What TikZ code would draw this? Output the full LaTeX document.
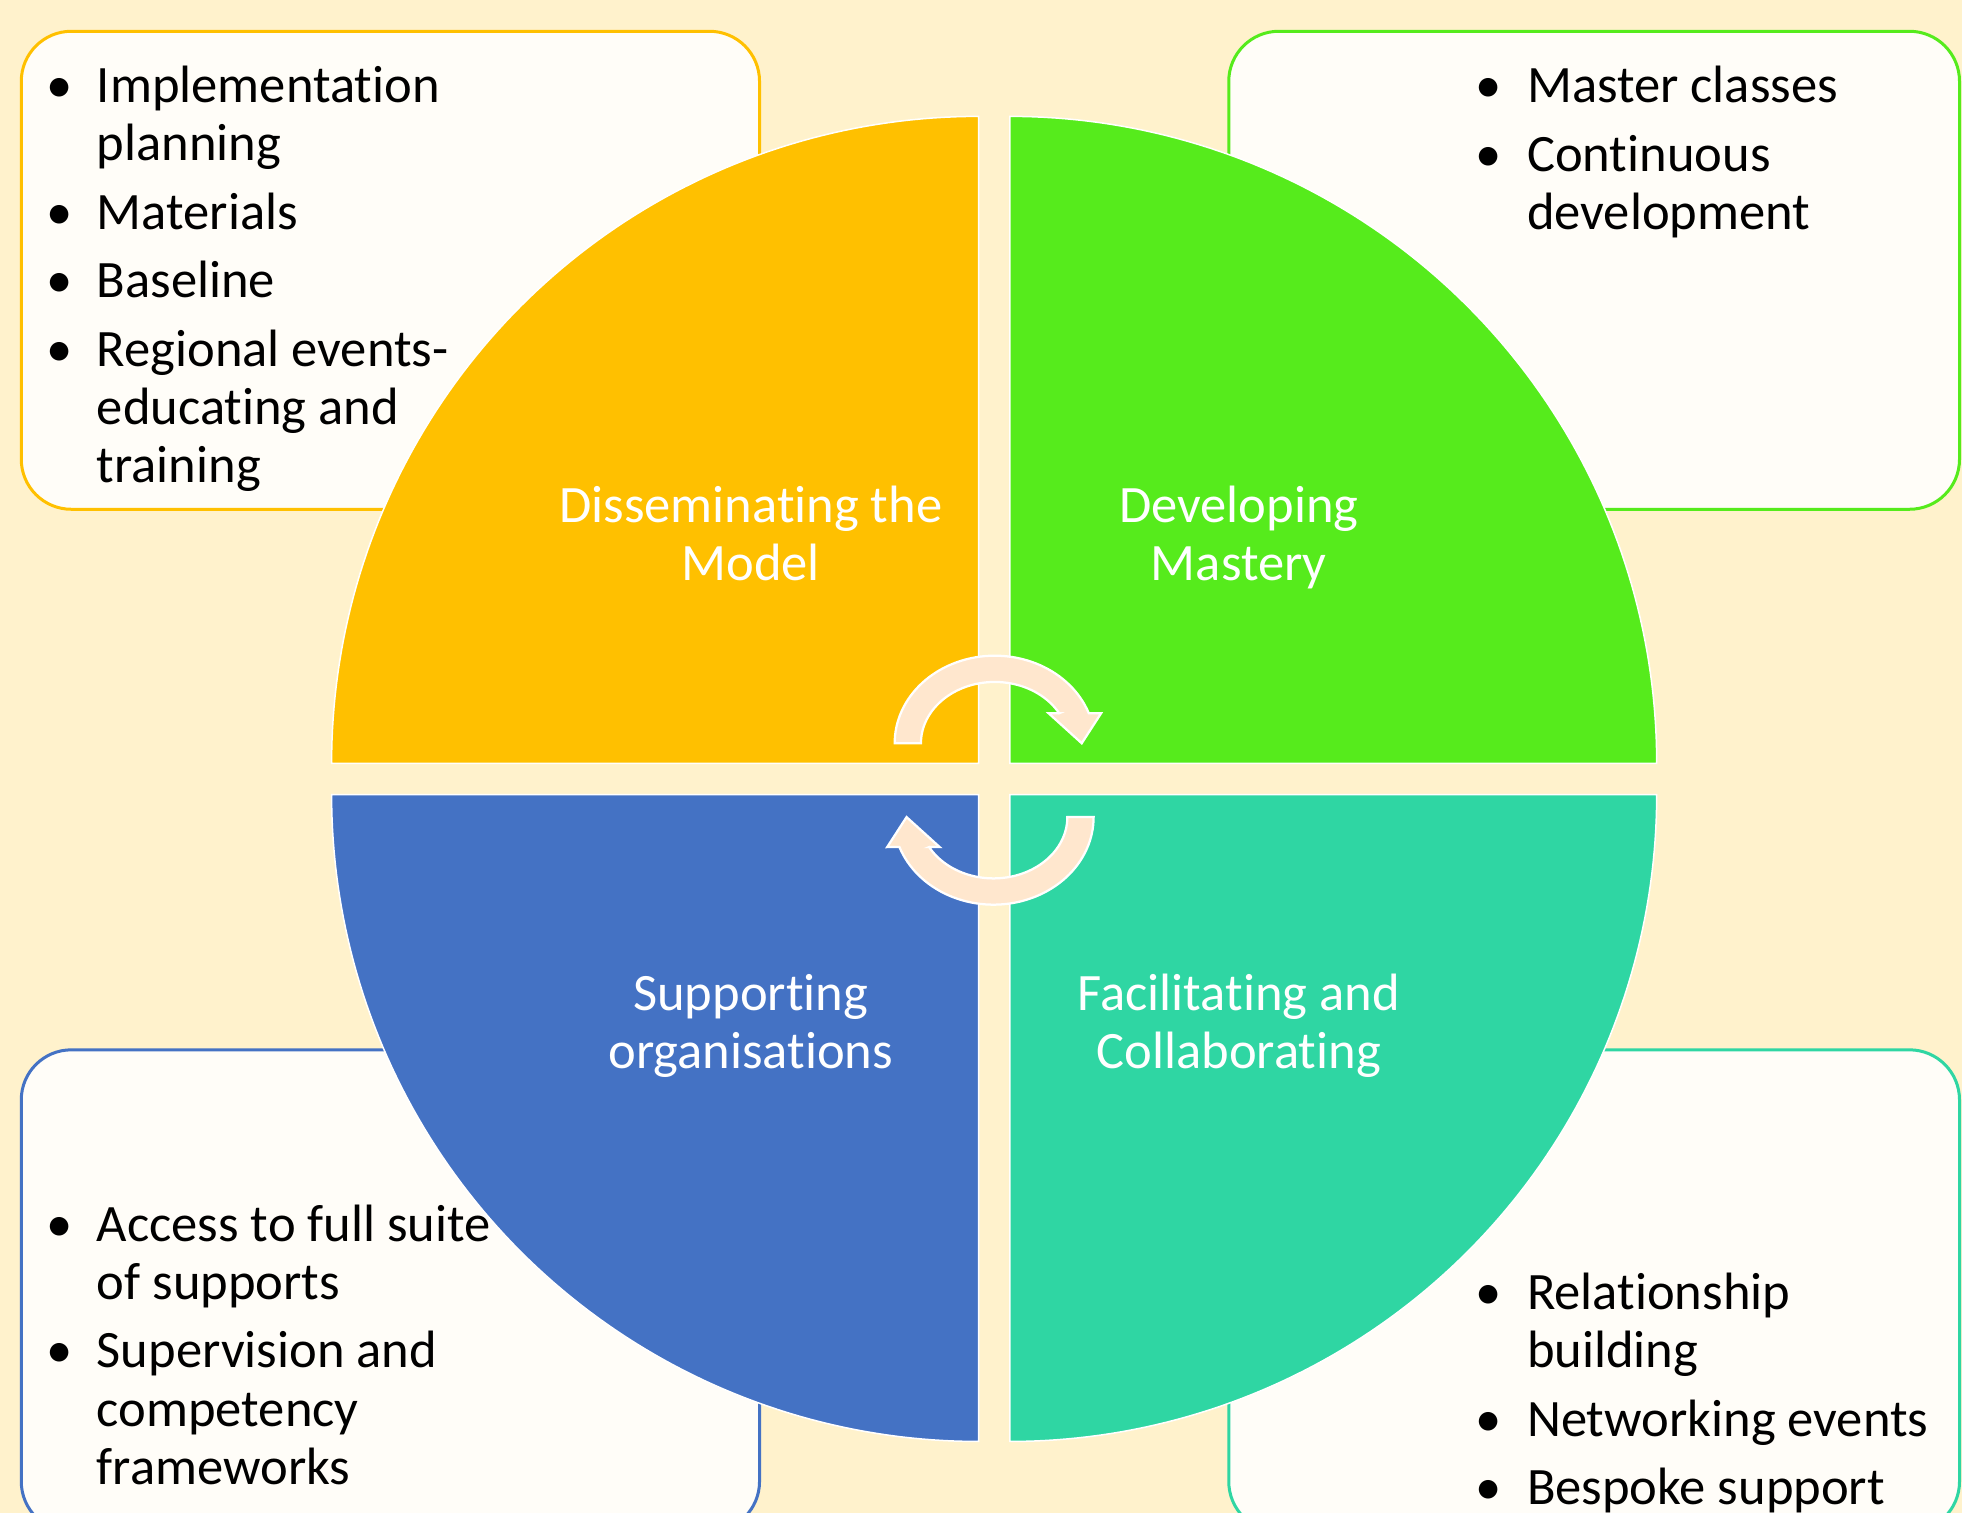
\documentclass[tikz,border=0pt]{standalone}
\usepackage{fontspec}
\setmainfont{Carlito}[Ligatures={NoCommon}]
\definecolor{bgc}{HTML}{FFF2CC}
\definecolor{boxfill}{HTML}{FFFDF8}
\definecolor{qyellow}{HTML}{FFC000}
\definecolor{qgreen}{HTML}{56EB1C}
\definecolor{qblue}{HTML}{4472C4}
\definecolor{qteal}{HTML}{2FD6A3}
\definecolor{arrowfill}{HTML}{FFE7CE}
\begin{document}
\begin{tikzpicture}[x=0.5pt,y=-0.5pt,
  txt/.style={anchor=base west, inner sep=0pt, font=\fontsize{21pt}{23pt}\selectfont, text=black},
  bul/.style={anchor=base, inner sep=0pt, font=\fontsize{21pt}{23pt}\selectfont, text=black},
  lab/.style={anchor=base, inner sep=0pt, font=\fontsize{21pt}{23pt}\selectfont, text=white},
  infobox/.style={fill=boxfill, line width=1.2pt, rounded corners=20pt},
  quad/.style={draw=white, line width=0.6pt},
  cyc/.style={fill=arrowfill, draw=white, line width=0.9pt, line join=miter}]
\useasboundingbox (0,0) rectangle (1568,1209);
\clip (0,0) rectangle (1568,1209);
\fill[bgc] (0,0) rectangle (1568,1209);

% corner boxes
\draw[infobox, draw=qyellow] (17,25) rectangle (607,407);
\draw[infobox, draw=qgreen] (982,25) rectangle (1566,407);
\draw[infobox, draw=qblue] (17,839) rectangle (607,1224);
\draw[infobox, draw=qteal] (982,839) rectangle (1566,1224);

% quadrants
\filldraw[quad, fill=qyellow] (782,610) -- plot[domain=0:90,samples=91,variable=\t] ({782-517*cos(\t)},{610-517*sin(\t)}) -- cycle;
\filldraw[quad, fill=qgreen] (807,610) -- plot[domain=0:90,samples=91,variable=\t] ({807+517*cos(\t)},{610-517*sin(\t)}) -- cycle;
\filldraw[quad, fill=qblue] (782,635) -- plot[domain=0:90,samples=91,variable=\t] ({782-517*cos(\t)},{635+517*sin(\t)}) -- cycle;
\filldraw[quad, fill=qteal] (807,635) -- plot[domain=0:90,samples=91,variable=\t] ({807+517*cos(\t)},{635+517*sin(\t)}) -- cycle;

% circular arrows
\filldraw[cyc] plot[domain=180:20,samples=60,variable=\t] ({795+80*cos(\t)},{594-70*sin(\t)})
  -- (880,570) -- (864.5,594) -- (838,570) -- (846.5,570)
  -- plot[domain=29.3:180,samples=60,variable=\t] ({795+59*cos(\t)},{594-49*sin(\t)}) -- cycle;
\begin{scope}[rotate around={180:(794.5,623.5)}]
\filldraw[cyc] plot[domain=180:20,samples=60,variable=\t] ({795+80*cos(\t)},{594-70*sin(\t)})
  -- (880,570) -- (864.5,594) -- (838,570) -- (846.5,570)
  -- plot[domain=29.3:180,samples=60,variable=\t] ({795+59*cos(\t)},{594-49*sin(\t)}) -- cycle;
\end{scope}

% quadrant labels
\node[lab] (l1a) at (600,417.5) {Disseminating the};
\node[lab] (l1b) at (600,464) {Model};
\node[lab] (l2a) at (990,417.5) {Developing};
\node[lab] (l2b) at (990,464) {Mastery};
\node[lab] (l3a) at (600,807.5) {Supporting};
\node[lab] (l3b) at (600,854) {organisations};
\node[lab] (l4a) at (990,807.5) {Facilitating and};
\node[lab] (l4b) at (990,854) {Collaborating};

% top-left list
\node[bul] (b11) at (48,82.3) {•};
\node[txt] (t11) at (77,82.3) {Implementation};
\node[txt] (t11b) at (77,128.5) {planning};
\node[bul] (b12) at (48,183.5) {•};
\node[txt] (t12) at (77,183.5) {Materials};
\node[bul] (b13) at (48,238) {•};
\node[txt] (t13) at (77,238) {Baseline};
\node[bul] (b14) at (48,292.7) {•};
\node[txt] (t14) at (77,292.7) {Regional events-};
\node[txt] (t14b) at (77,339.3) {educating and};
\node[txt] (t14c) at (77,386) {training};

% top-right list
\node[bul] (b21) at (1190,82.3) {•};
\node[txt] (t21) at (1220,82.3) {Master classes};
\node[bul] (b22) at (1190,137) {•};
\node[txt] (t22) at (1220,137) {Continuous};
\node[txt] (t22b) at (1220,183.5) {development};

% bottom-left list
\node[bul] (b31) at (48,992) {•};
\node[txt] (t31) at (77,992) {Access to full suite};
\node[txt] (t31b) at (77,1038.6) {of supports};
\node[bul] (b32) at (48,1093.2) {•};
\node[txt] (t32) at (77,1093.2) {Supervision and};
\node[txt] (t32b) at (77,1139.8) {competency};
\node[txt] (t32c) at (77,1186.4) {frameworks};

% bottom-right list
\node[bul] (b41) at (1190,1046.6) {•};
\node[txt] (t41) at (1220,1046.6) {Relationship};
\node[txt] (t41b) at (1220,1093.2) {building};
\node[bul] (b42) at (1190,1147.8) {•};
\node[txt] (t42) at (1220,1147.8) {Networking events};
\node[bul] (b43) at (1190,1202.4) {•};
\node[txt] (t43) at (1220,1202.4) {Bespoke support};
\end{tikzpicture}
\end{document}
